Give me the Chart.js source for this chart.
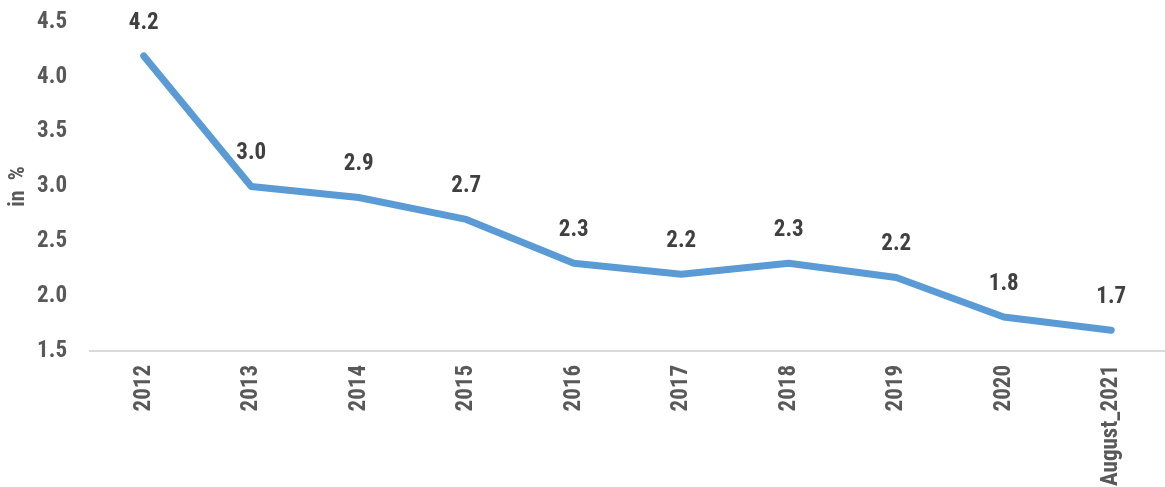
<!DOCTYPE html>
<html lang="en">
<head>
  <meta charset="UTF-8">
  <title>Rate in %</title>
  <script src="https://cdn.jsdelivr.net/npm/chart.js"></script>
  <style>
    html, body {
      margin: 0;
      padding: 0;
      background: #fff;
    }
    #wrap {
      width: 1165px;
      height: 487px;
      position: relative;
    }
  </style>
</head>
<body>
  <div id="wrap"><canvas id="chart"></canvas></div>

  <script>
    // chart data
    const years = ["2012", "2013", "2014", "2015", "2016", "2017", "2018", "2019", "2020", "August_2021"];
    const rates = [4.19, 3.0, 2.9, 2.7, 2.3, 2.2, 2.3, 2.17, 1.81, 1.69];
    const rateLabels = ["4.2", "3.0", "2.9", "2.7", "2.3", "2.2", "2.3", "2.2", "1.8", "1.7"];
    const yTicks = [1.5, 2.0, 2.5, 3.0, 3.5, 4.0, 4.5];

    const FONT = "'Arial Narrow', 'Liberation Sans Narrow', 'Roboto Condensed', Arial, sans-serif";

    // draws the value above each point
    const valueLabels = {
      id: "valueLabels",
      afterDatasetsDraw(chart) {
        const ctx = chart.ctx;
        const meta = chart.getDatasetMeta(0);
        ctx.save();
        ctx.font = "bold 23px " + FONT;
        ctx.fillStyle = "#404040";
        ctx.textAlign = "center";
        ctx.textBaseline = "middle";
        meta.data.forEach((pt, i) => {
          ctx.fillText(rateLabels[i], pt.x, pt.y - 33);
        });
        ctx.restore();
      }
    };

    const ctx = document.getElementById("chart").getContext("2d");
    new Chart(ctx, {
      type: "line",
      data: {
        labels: years,
        datasets: [{
          data: rates,
          borderColor: "#5b9bd5",
          borderWidth: 7,
          borderCapStyle: "round",
          borderJoinStyle: "round",
          pointRadius: 0,
          tension: 0,
          fill: false
        }]
      },
      options: {
        responsive: true,
        maintainAspectRatio: false,
        animation: false,
        layout: { padding: { top: 22, right: 0, left: 0, bottom: 0 } },
        plugins: {
          legend: { display: false },
          tooltip: { enabled: false }
        },
        scales: {
          x: {
            offset: true,
            grid: { display: false },
            border: { display: true, color: "#d9d9d9", width: 2 },
            ticks: {
              color: "#595959",
              font: { family: FONT, size: 23, weight: "bold" },
              minRotation: 90,
              maxRotation: 90,
              autoSkip: false,
              padding: 6
            },
            afterFit(scale) { scale.height = 136; }
          },
          y: {
            min: 1.5,
            max: 4.5,
            grid: { display: false },
            border: { display: false },
            afterBuildTicks(scale) { scale.ticks = yTicks.map(v => ({ value: v })); },
            ticks: {
              color: "#595959",
              font: { family: FONT, size: 23, weight: "bold" },
              padding: 15,
              callback: v => Number(v).toFixed(1)
            },
            title: {
              display: true,
              text: "in  %",
              color: "#595959",
              font: { family: FONT, size: 22, weight: "bold" },
              padding: { top: 5, bottom: 0 }
            },
            afterFit(scale) {
              scale.width = 90;
              scale.paddingTop = 0;
              scale.paddingBottom = 0;
            }
          }
        }
      },
      plugins: [valueLabels]
    });
  </script>
</body>
</html>
